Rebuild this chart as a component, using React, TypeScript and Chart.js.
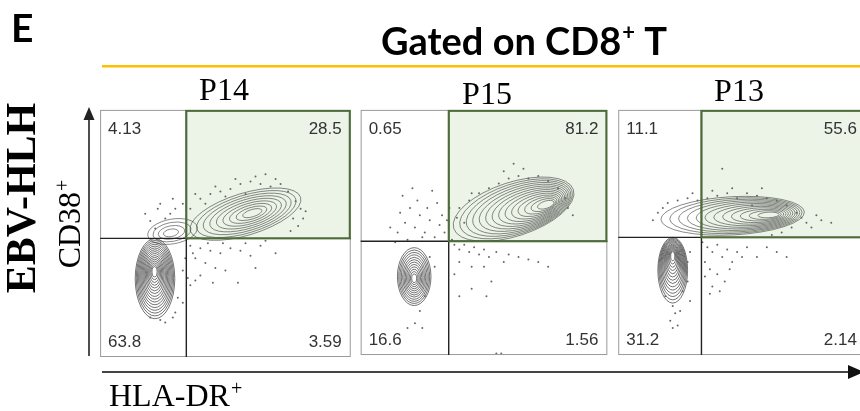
import React, { useEffect, useRef } from "react";
import { Chart, registerables } from "chart.js";
Chart.register(...registerables);

// ---------- data ----------
const panelNames = ["P14", "P15", "P13"];
const quadUL = ["4.13", "0.65", "11.1"];
const quadUR = ["28.5", "81.2", "55.6"];
const quadLL = ["63.8", "16.6", "31.2"];
const quadLR = ["3.59", "1.56", "2.14"];
const gateX = [34.4, 35.7, 33.6];
const gateY = [48.0, 46.4, 48.0];

// contour populations: [centerX, centerY, radiusX, radiusY, tiltDeg, peakX, peakY, levels]
const p14Pops = [
  [21.9, 31.7, 7.9, 16.2, 0, 21.7, 34.9, 16],
  [28.9, 50.8, 10, 5, 10, 28, 50, 4],
  [58, 57.8, 23, 8.5, 17, 61.3, 58.3, 9],
];
const p15Pops = [
  [21.7, 32, 6.8, 11.8, 0, 21.7, 31.2, 12],
  [62, 59.5, 25.5, 11, 18, 77.1, 61.6, 14],
];
const p13Pops = [
  [22, 34.6, 6, 13.4, 0, 22, 41.2, 14],
  [46.2, 56.8, 29, 7.8, 3, 63.2, 57.2, 12],
];

const p14Dots = [
  [40, 64], [44, 66], [48, 67], [52, 68], [56, 70], [60, 71], [64, 70], [68, 69], [72, 70], [75, 67],
  [78, 63], [80, 60], [81, 56], [79, 53], [76, 51], [36, 60], [33, 62], [30, 60], [28, 58], [26, 56],
  [24, 62], [29, 64], [20, 55], [22, 52], [38, 66], [46, 69], [54, 72], [62, 73], [70, 72], [66, 74],
  [58, 66], [50, 65], [42, 62], [82, 59], [77, 56], [18, 58], [23, 60],
  [36, 45], [40, 44], [44, 43], [48, 42], [52, 44], [56, 43], [60, 41], [64, 45], [38, 40], [42, 38],
  [46, 36], [50, 35], [40, 33], [45, 30], [55, 30], [62, 36], [70, 42], [36, 29], [38, 31], [33, 22],
  [31, 24], [29, 16], [30, 18], [26, 14], [24, 15], [20, 16], [33, 35], [34, 40], [37, 42], [43, 46],
  [49, 46], [58, 46], [66, 47], [35, 32],
];
const p15Dots = [
  [16, 58], [18, 54], [20, 60], [22, 52], [24, 57], [26, 50], [28, 55], [30, 48], [32, 53], [34, 50],
  [15, 50], [19, 47], [23, 63], [27, 60], [31, 62], [33, 57], [12, 52], [14, 46], [29, 67], [35, 55],
  [17, 65], [21, 68], [25, 48], [36, 60], [37, 47],
  [40, 60], [44, 63], [48, 66], [52, 68], [56, 70], [60, 72], [64, 73], [68, 72], [72, 73], [76, 71],
  [80, 68], [83, 64], [84, 60], [66, 76], [58, 75], [45, 66], [39, 56], [42, 54], [86, 57], [62, 78],
  [38, 45], [40, 43], [42, 45], [44, 42], [46, 44], [48, 41], [50, 43], [52, 40], [55, 42], [58, 38],
  [60, 41], [64, 40], [68, 39], [72, 38], [76, 36], [40, 38], [45, 36], [50, 36], [53, 30], [45, 27],
  [51, 24], [40, 24], [38, 33], [30, 36], [28, 40], [26, 24], [24, 18], [22, 13], [19, 11], [25, 11],
  [55, 0.6], [57, 0.6],
];
const p13Dots = [
  [16, 58], [18, 60], [14, 55], [20, 62], [24, 63], [28, 64], [32, 63], [36, 64], [40, 65], [44, 66],
  [48, 64], [52, 66], [56, 65], [60, 64], [64, 63], [68, 61], [72, 58], [74, 56], [76, 54], [78, 52],
  [70, 52], [66, 50], [62, 49], [42, 76], [30, 66], [58, 68], [82, 55], [86, 54], [80, 57], [46, 68],
  [38, 67], [54, 61],
  [34, 46], [36, 44], [38, 42], [40, 45], [42, 40], [44, 43], [46, 38], [48, 42], [50, 40], [35, 38],
  [37, 35], [40, 33], [43, 30], [38, 28], [35, 32], [52, 44], [56, 40], [60, 44], [64, 42], [68, 40],
  [45, 35], [41, 26], [37, 25],
  [22, 20], [23, 17], [21, 14], [24, 12], [25, 18], [22, 11], [26, 26], [28, 30], [29, 22], [19, 24],
  [28, 38], [29, 42],
];

const allPops = [p14Pops, p15Pops, p13Pops];
const allDots = [p14Dots, p15Dots, p13Dots];

// ---------- layout (pixels) ----------
const W = 860;
const H = 411;
const panelRects = [
  [97, 350, 108, 360],
  [360, 609, 108, 358],
  [620, 870, 108, 358],
];
const labelPos = [
  [224, 100],
  [487, 104],
  [739, 101],
];

const SERIF = '"Liberation Serif", "Times New Roman", serif';
const SANS = '"Liberation Sans", Arial, sans-serif';
const BOLDSANS = 'Lato, "Open Sans", sans-serif';

function buildScales() {
  const scales: any = {};
  panelRects.forEach((r, i) => {
    const [L, R, T, B] = r;
    const w = R - L;
    const h = B - T;
    scales["x" + i] = {
      type: "linear",
      axis: "x",
      display: false,
      min: (-L / w) * 100,
      max: ((W - L) / w) * 100,
      offset: false,
    };
    scales["y" + i] = {
      type: "linear",
      axis: "y",
      display: false,
      min: ((B - H) / h) * 100,
      max: (B / h) * 100,
      offset: false,
    };
  });
  return scales;
}

function panelPx(chart: any, i: number) {
  const xs = chart.scales["x" + i];
  const ys = chart.scales["y" + i];
  return {
    xs,
    ys,
    L: xs.getPixelForValue(0),
    R: xs.getPixelForValue(100),
    T: ys.getPixelForValue(100),
    B: ys.getPixelForValue(0),
    gx: xs.getPixelForValue(gateX[i]),
    gy: ys.getPixelForValue(gateY[i]),
  };
}

const figurePlugin = {
  id: "figure",
  beforeDatasetsDraw(chart: any) {
    const ctx = chart.ctx;
    ctx.save();
    for (let i = 0; i < 3; i++) {
      const p = panelPx(chart, i);
      // green gate fill
      ctx.fillStyle = "#ebf4e7";
      ctx.fillRect(p.gx, p.T, p.R - p.gx, p.gy - p.T);
      // contours
      const ppx = Math.abs(p.xs.getPixelForValue(1) - p.xs.getPixelForValue(0));
      const ppy = Math.abs(p.ys.getPixelForValue(1) - p.ys.getPixelForValue(0));
      ctx.lineWidth = 0.75;
      allPops[i].forEach((pop) => {
        const [cx, cy, rx, ry, tilt, pkx, pky, n] = pop;
        ctx.strokeStyle = tilt === 0 ? "rgba(35,35,35,0.85)" : "rgba(60,60,60,0.8)";
        const ccx = p.xs.getPixelForValue(cx);
        const ccy = p.ys.getPixelForValue(cy);
        const pkpx = p.xs.getPixelForValue(pkx);
        const pkpy = p.ys.getPixelForValue(pky);
        for (let k = 0; k < n; k++) {
          const t = (k / n) * 0.93;
          const ex = ccx + (pkpx - ccx) * t;
          const ey = ccy + (pkpy - ccy) * t;
          ctx.beginPath();
          ctx.ellipse(
            ex,
            ey,
            Math.max(0.6, rx * ppx * (1 - t)),
            Math.max(0.6, ry * ppy * (1 - t)),
            (-tilt * Math.PI) / 180,
            0,
            Math.PI * 2
          );
          ctx.stroke();
        }
      });
    }
    ctx.restore();
  },
  afterDatasetsDraw(chart: any) {
    const ctx = chart.ctx;
    ctx.save();
    for (let i = 0; i < 3; i++) {
      const p = panelPx(chart, i);
      // outer box
      ctx.strokeStyle = "#9a9a9a";
      ctx.lineWidth = 1;
      ctx.strokeRect(p.L + 0.5, p.T + 0.5, p.R - p.L - 1, p.B - p.T - 1);
      // quadrant lines
      ctx.strokeStyle = "#222";
      ctx.lineWidth = 1.4;
      ctx.beginPath();
      ctx.moveTo(p.L, p.gy);
      ctx.lineTo(p.R, p.gy);
      ctx.moveTo(p.gx, p.T);
      ctx.lineTo(p.gx, p.B);
      ctx.stroke();
      // green gate border
      ctx.strokeStyle = "#4d6c38";
      ctx.lineWidth = 2;
      ctx.strokeRect(p.gx, p.T + 1, p.R - p.gx - 1, p.gy - p.T - 1);
      // numbers
      ctx.fillStyle = "#333";
      ctx.font = "17px " + SANS;
      ctx.textBaseline = "alphabetic";
      ctx.textAlign = "left";
      ctx.fillText(quadUL[i], p.L + 8, p.T + 24);
      ctx.fillText(quadLL[i], p.L + 8, p.B - 10);
      ctx.textAlign = "right";
      ctx.fillText(quadUR[i], p.R - 9, p.T + 24);
      ctx.fillText(quadLR[i], p.R - 9, p.B - 10);
      // panel name
      ctx.fillStyle = "#000";
      ctx.textAlign = "center";
      ctx.font = "32px " + SERIF;
      ctx.fillText(panelNames[i], labelPos[i][0], labelPos[i][1]);
    }

    // "E"
    ctx.textAlign = "left";
    ctx.fillStyle = "#000";
    ctx.font = "bold 39px " + BOLDSANS;
    ctx.fillText("E", 11, 42);

    // title
    let x = 381;
    ctx.font = "bold 38px " + BOLDSANS;
    ctx.fillText("Gated on CD8", x, 55);
    x += ctx.measureText("Gated on CD8").width + 1;
    ctx.font = "bold 22px " + BOLDSANS;
    ctx.fillText("+", x, 40);
    x += ctx.measureText("+").width;
    ctx.font = "bold 38px " + BOLDSANS;
    ctx.fillText(" T", x, 55);

    // orange rule
    ctx.strokeStyle = "#ffc000";
    ctx.lineWidth = 2.5;
    ctx.beginPath();
    ctx.moveTo(102, 66.3);
    ctx.lineTo(W, 66.3);
    ctx.stroke();

    // y arrow
    ctx.strokeStyle = "#222";
    ctx.fillStyle = "#222";
    ctx.lineWidth = 1.6;
    ctx.beginPath();
    ctx.moveTo(89, 356);
    ctx.lineTo(89, 116);
    ctx.stroke();
    ctx.beginPath();
    ctx.moveTo(89, 107);
    ctx.lineTo(83.5, 120);
    ctx.lineTo(94.5, 120);
    ctx.closePath();
    ctx.fill();

    // x arrow
    ctx.strokeStyle = "#444";
    ctx.lineWidth = 1.8;
    ctx.beginPath();
    ctx.moveTo(102, 372);
    ctx.lineTo(850, 372);
    ctx.stroke();
    ctx.fillStyle = "#111";
    ctx.beginPath();
    ctx.moveTo(864, 372);
    ctx.lineTo(848, 365);
    ctx.lineTo(848, 379);
    ctx.closePath();
    ctx.fill();

    // HLA-DR+
    ctx.fillStyle = "#000";
    ctx.textAlign = "left";
    ctx.font = "32px " + SERIF;
    ctx.fillText("HLA-DR", 109, 406);
    const hw = ctx.measureText("HLA-DR").width;
    ctx.font = "20px " + SERIF;
    ctx.fillText("+", 109 + hw + 1, 395);

    // EBV-HLH (rotated)
    ctx.save();
    ctx.translate(35, 198);
    ctx.rotate(-Math.PI / 2);
    ctx.textAlign = "center";
    ctx.font = "bold 42px " + SERIF;
    ctx.fillText("EBV-HLH", 0, 0);
    ctx.restore();

    // CD38+ (rotated)
    ctx.save();
    ctx.translate(80, 224);
    ctx.rotate(-Math.PI / 2);
    ctx.textAlign = "left";
    ctx.font = "32px " + SERIF;
    const cw = ctx.measureText("CD38").width;
    ctx.font = "20px " + SERIF;
    const pw = ctx.measureText("+").width;
    const start = -(cw + pw + 1) / 2;
    ctx.font = "32px " + SERIF;
    ctx.fillText("CD38", start, 0);
    ctx.font = "20px " + SERIF;
    ctx.fillText("+", start + cw + 1, -11);
    ctx.restore();

    ctx.restore();
  },
};

export default function App() {
  const ref = useRef<HTMLCanvasElement | null>(null);
  useEffect(() => {
    if (!ref.current) return;
    const datasets = allDots.map((dots, i) => ({
      type: "scatter" as const,
      data: dots.map(([x, y]) => ({ x, y })),
      xAxisID: "x" + i,
      yAxisID: "y" + i,
      pointRadius: 1,
      pointBorderWidth: 0,
      pointBackgroundColor: "#666",
      showLine: false,
    }));
    const chart = new Chart(ref.current, {
      type: "scatter",
      data: { datasets } as any,
      options: {
        responsive: false,
        maintainAspectRatio: false,
        animation: false,
        events: [],
        layout: { padding: 0 },
        plugins: { legend: { display: false }, tooltip: { enabled: false }, title: { display: false } },
        scales: buildScales(),
      } as any,
      plugins: [figurePlugin],
    });
    return () => chart.destroy();
  }, []);
  return (
    <div style={{ position: "fixed", left: 0, top: 0, width: W, height: H, background: "#fff" }}>
      <canvas ref={ref} width={W} height={H} style={{ display: "block", width: W, height: H }} />
    </div>
  );
}
